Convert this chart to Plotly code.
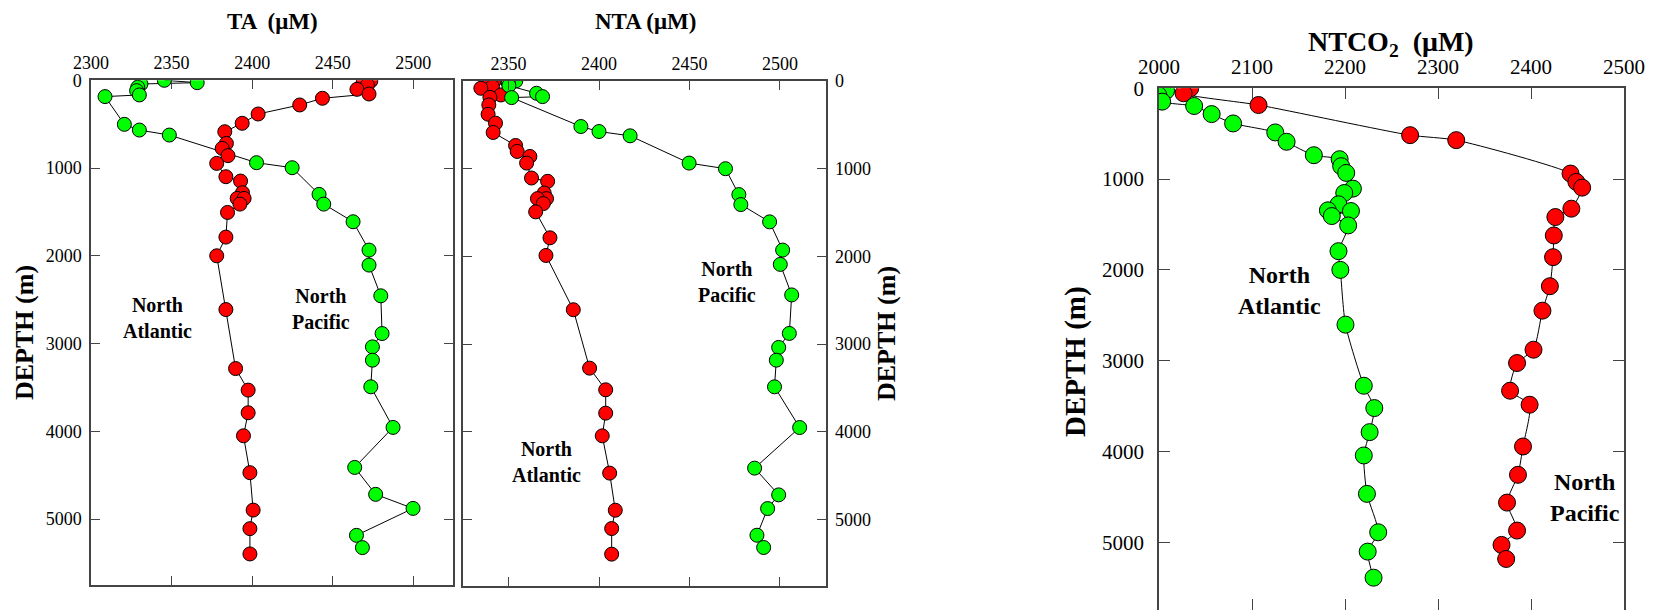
import plotly.graph_objects as go

# ---------------- data ----------------
# Panel 1: TA (uM) vs depth (m)
ta_atl_depth = [8, 27, 53, 103, 156, 205, 281, 384, 490, 586, 719, 776, 859, 947, 1099, 1148,
                1281, 1346, 1346, 1411, 1506, 1787, 2000, 2613, 3285, 3531, 3789, 4051, 4472,
                4898, 5110, 5398]
ta_atl = [2473.6, 2468.8, 2471.5, 2465.0, 2472.5, 2443.6, 2429.5, 2403.7, 2393.8, 2383.0,
          2384.0, 2381.4, 2385.0, 2378.0, 2383.7, 2392.8, 2394.0, 2390.7, 2395.0, 2392.4,
          2384.7, 2383.7, 2378.0, 2383.7, 2389.7, 2397.5, 2397.5, 2394.6, 2398.6, 2400.6,
          2398.6, 2398.6]
ta_pac_depth = [0, 27, 42, 80, 118, 167, 186, 502, 567, 624, 939, 996, 1300, 1411, 1612, 1935,
                2106, 2456, 2886, 3038, 3190, 3493, 3956, 4412, 4719, 4879, 5186, 5326]
ta_pac = [2345.5, 2365.9, 2331.0, 2329.0, 2328.3, 2330.0, 2308.7, 2320.7, 2330.0, 2348.6,
          2402.7, 2424.8, 2441.5, 2444.4, 2462.6, 2472.5, 2472.5, 2479.8, 2480.6, 2474.6,
          2474.6, 2473.6, 2487.4, 2463.6, 2476.6, 2499.8, 2464.7, 2468.4]

# Panel 2: NTA (uM) vs depth (m)
nta_atl_depth = [0, 27, 64, 83, 159, 186, 273, 379, 481, 587, 735, 803, 860, 936, 1106, 1144,
                 1277, 1341, 1341, 1398, 1492, 1788, 1989, 2608, 3274, 3521, 3787, 4046, 4471,
                 4894, 5103, 5395]
nta_atl = [2342.1, 2337.8, 2341.1, 2334.7, 2345.8, 2339.7, 2339.1, 2338.7, 2342.8, 2341.5,
           2353.9, 2354.8, 2361.8, 2360.0, 2362.7, 2371.6, 2369.7, 2371.0, 2366.0, 2369.2,
           2365.0, 2372.9, 2370.7, 2385.8, 2394.8, 2403.7, 2403.7, 2401.8, 2405.9, 2409.0,
           2407.0, 2407.0]
nta_pac_depth = [0, 15, 53, 140, 178, 189, 519, 576, 625, 936, 1000, 1295, 1409, 1606, 1928,
                 2091, 2439, 2878, 3038, 3183, 3487, 3951, 4414, 4719, 4875, 5179, 5319]
nta_pac = [2354.0, 2349.8, 2350.2, 2365.5, 2368.8, 2351.7, 2390.0, 2400.0, 2417.2, 2449.8,
           2469.9, 2477.3, 2478.4, 2494.3, 2501.5, 2500.2, 2506.5, 2505.2, 2499.3, 2498.0,
           2497.0, 2510.9, 2486.0, 2499.3, 2493.2, 2487.3, 2491.0]

# Panel 3: NTCO2 (uM) vs depth (m)
ntco2_atl_depth = [0, 26, 74, 147, 195, 284, 387, 486, 589, 737, 781, 858, 932, 1105, 1153,
                   1278, 1344, 1352, 1407, 1510, 1794, 2000, 2603, 3276, 3522, 3787, 4044,
                   4467, 4890, 5103, 5390]
ntco2_atl = [2003.4, 2007.6, 1999.2, 2003.4, 2037.8, 2056.6, 2079.7, 2125.0, 2137.2, 2166.5,
             2194.2, 2195.9, 2201.3, 2208.5, 2199.2, 2193.0, 2181.6, 2206.4, 2185.8, 2203.4,
             2193.0, 2195.0, 2200.5, 2220.2, 2231.5, 2226.5, 2220.2, 2223.6, 2235.7, 2224.4,
             2230.7]
ntco2_pac_depth = [0, 55, 184, 516, 571, 939, 1031, 1094, 1326, 1418, 1621, 1860, 2180, 2449,
                   2879, 3026, 3331, 3485, 3945, 4257, 4563, 4871, 5029, 5184]
ntco2_pac = [2033.6, 2026.4, 2107.0, 2270.0, 2319.6, 2442.5, 2448.8, 2455.0, 2443.4, 2426.2,
             2424.5, 2423.7, 2420.3, 2412.3, 2402.7, 2385.0, 2377.5, 2398.5, 2391.4, 2386.0,
             2374.2, 2385.0, 2368.3, 2373.3]

ta_ticks = [2300, 2350, 2400, 2450, 2500]
nta_ticks = [2350, 2400, 2450, 2500]
ntco2_ticks = [2000, 2100, 2200, 2300, 2400, 2500]
depth_ticks = [0, 1000, 2000, 3000, 4000, 5000]

RED = "#ff0000"
GREEN = "#00ff00"
FONT = "Liberation Serif"
W, H = 1661, 610


def px_x(p):
    return p / W


def px_y(p):
    return 1 - p / H


fig = go.Figure()


def add_series(x, y, color, xa, ya, size, shape="linear"):
    fig.add_trace(go.Scatter(
        x=x, y=y, xaxis=xa, yaxis=ya, mode="lines+markers",
        line=dict(color="black", width=1, shape=shape, smoothing=0.6),
        marker=dict(symbol="circle", size=size, color=color,
                    line=dict(color="black", width=1)),
        showlegend=False, hoverinfo="skip"))


add_series(ta_pac, ta_pac_depth, GREEN, "x", "y", 14)
add_series(ta_atl, ta_atl_depth, RED, "x", "y", 14)
add_series(nta_atl, nta_atl_depth, RED, "x2", "y2", 14)
add_series(nta_pac, nta_pac_depth, GREEN, "x2", "y2", 14)
add_series(ntco2_pac, ntco2_pac_depth, RED, "x3", "y3", 17, "spline")
add_series(ntco2_atl, ntco2_atl_depth, GREEN, "x3", "y3", 17, "spline")

AX = dict(showline=True, linecolor="#444", linewidth=1.5, mirror="ticks", ticks="inside",
          tickcolor="#444", tickwidth=1.2, showgrid=False, zeroline=False, automargin=False,
          tickfont=dict(family=FONT, size=18, color="black"))

fig.update_layout(
    width=W, height=H, margin=dict(l=0, r=0, t=0, b=0, pad=0, autoexpand=False),
    paper_bgcolor="white", plot_bgcolor="white",
    xaxis=dict(AX, domain=[px_x(91), px_x(453)], range=[2300, 2524.6], side="top",
               tickvals=ta_ticks, ticklen=9, anchor="y", ticklabelstandoff=2),
    yaxis=dict(AX, domain=[px_y(585), px_y(80.3)], range=[5752, 0], tickvals=depth_ticks,
               ticklen=9, anchor="x", ticklabelstandoff=4),
    xaxis2=dict(AX, domain=[px_x(463.3), px_x(825.7)], range=[2325, 2525.3], side="top",
                tickvals=nta_ticks, ticklen=9, anchor="y2", ticklabelstandoff=2),
    yaxis2=dict(AX, domain=[px_y(586), px_y(81)], range=[5758, 0], tickvals=depth_ticks,
                ticklen=9, anchor="x2", side="right", ticklabelstandoff=4),
    xaxis3=dict(AX, domain=[px_x(1159), px_x(1624)], range=[2000, 2500], side="top",
                tickvals=ntco2_ticks, ticklen=11, anchor="y3", ticklabelstandoff=4,
                tickfont=dict(family=FONT, size=21, color="black")),
    yaxis3=dict(AX, domain=[0, px_y(88.3)], range=[5746, 0], tickvals=depth_ticks,
                ticklen=11, anchor="x3", ticklabelstandoff=9,
                tickfont=dict(family=FONT, size=21, color="black")),
)


def ann(text, x, y, size, angle=0):
    fig.add_annotation(text=text, x=px_x(x), y=px_y(y), xref="paper", yref="paper",
                       showarrow=False, textangle=angle, xanchor="center", yanchor="middle",
                       font=dict(family=FONT, size=size, color="black"))


# titles
ann("<b>TA  (μM)</b>", 272, 21, 23)
ann("<b>NTA (μM)</b>", 645, 22, 23)
ann("<b>NTCO<sub>2</sub>  (μM)</b>", 1391, 44, 28)
# axis labels
ann("<b>DEPTH (m)</b>", 24, 333, 26, -90)
ann("<b>DEPTH (m)</b>", 886, 334, 26, -90)
ann("<b>DEPTH (m)</b>", 1076, 362, 29, -90)
# region labels
ann("<b>North<br>Atlantic</b>", 157, 318, 20)
ann("<b>North<br>Pacific</b>", 321, 309, 20)
ann("<b>North<br>Pacific</b>", 727, 282, 20)
ann("<b>North<br>Atlantic</b>", 546, 462, 20)
ann("<b>North<br>Atlantic</b>", 1279, 290, 24)
ann("<b>North<br>Pacific</b>", 1585, 497, 24)

fig.write_html("out.html")
